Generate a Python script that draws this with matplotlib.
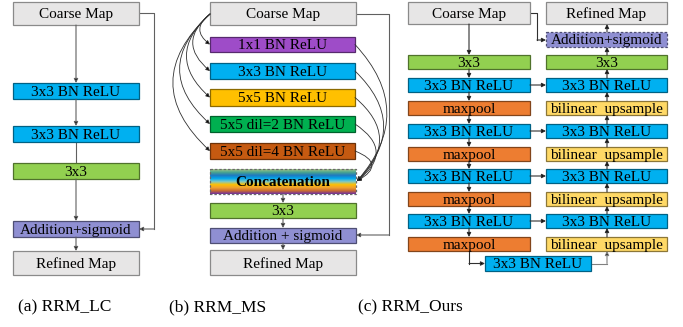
import numpy as np
import matplotlib.pyplot as plt
from matplotlib.patches import Rectangle, FancyArrowPatch
from matplotlib.colors import to_rgb, LinearSegmentedColormap

plt.rcParams['font.family'] = ['Liberation Serif', 'DejaVu Serif']

# ---- labels / content ----
captions = ['(a) RRM_LC', '(b) RRM_MS', '(c) RRM_Ours']

lc_labels = ['Coarse Map', '3x3 BN ReLU', '3x3 BN ReLU', '3x3', 'Addition+sigmoid', 'Refined Map']
ms_branches = ['1x1 BN ReLU', '3x3 BN ReLU', '5x5 BN ReLU', '5x5 dil=2 BN ReLU', '5x5 dil=4 BN ReLU']
ms_tail = ['Concatenation', '3x3', 'Addition + sigmoid', 'Refined Map']
ours_left = ['3x3', '3x3 BN ReLU', 'maxpool', '3x3 BN ReLU', 'maxpool',
             '3x3 BN ReLU', 'maxpool', '3x3 BN ReLU', 'maxpool']
ours_right = ['3x3', '3x3 BN ReLU', 'bilinear  upsample', '3x3 BN ReLU', 'bilinear  upsample',
              '3x3 BN ReLU', 'bilinear  upsample', '3x3 BN ReLU', 'bilinear  upsample']
ours_bottom = '3x3 BN ReLU'

# colours
GRAY = '#e7e6e6'
BLUE = '#00b0f0'
LGREEN = '#92d050'
ADD = '#8f8fd2'
colour_of = {'3x3 BN ReLU': BLUE, '3x3': LGREEN, 'maxpool': '#ed7d31',
             'bilinear  upsample': '#ffd966', 'Coarse Map': GRAY, 'Refined Map': GRAY,
             'Addition+sigmoid': ADD, 'Addition + sigmoid': ADD}
branch_colours = ['#9e4cc8', BLUE, '#ffc000', '#00b050', '#c55a11']
concat_stops = ['#a4c88a', '#4aa58e', '#1f78c0', '#00a8ec', '#7cc8c8', '#ffc000', '#f0a030', '#c86a30', '#7030a0']

W, H = 683, 327
fig = plt.figure(figsize=(W / 100, H / 100), dpi=100)
ax = fig.add_axes([0, 0, 1, 1])
LINE = '#606060'


def darker(c, f=0.55):
    r, g, b = to_rgb(c)
    return (r * f, g * f, b * f)


def box(x0, x1, y0, y1, text, fc, dashed=False, bold=False, fs=11, ec=None):
    if ec is None:
        ec = '#8a8a8a' if fc == GRAY else darker(fc)
    ax.add_patch(Rectangle((x0, y0), x1 - x0, y1 - y0, facecolor=fc if fc else 'none',
                           edgecolor=ec, lw=0.9, ls=(0, (2, 1.5)) if dashed else '-', zorder=3))
    ax.text((x0 + x1) / 2, (y0 + y1) / 2 + 1.2, text, ha='center', va='center', fontsize=fs,
            weight='bold' if bold else 'normal', zorder=5)


def arrow(p0, p1, rad=0.0, color=LINE, lw=0.8):
    a = FancyArrowPatch(p0, p1, arrowstyle='-|>', mutation_scale=6, lw=lw,
                        color=color, shrinkA=0, shrinkB=0,
                        connectionstyle='arc3,rad=%s' % rad, zorder=4)
    a.set_edgecolor(color)
    a.set_facecolor('black')
    ax.add_patch(a)


def path(points, color=LINE, head=True, lw=0.8):
    xs, ys = zip(*points)
    if head:
        ax.plot(xs[:-1], ys[:-1], color=color, lw=lw, zorder=2)
        arrow(points[-2], points[-1], color=color, lw=lw)
    else:
        ax.plot(xs, ys, color=color, lw=lw, zorder=2)


# ---------------- (a) RRM_LC ----------------
ax_ = [13, 139]
a_rows = [(2, 25), (83, 99), (126, 142), (163, 179), (221, 237), (251, 275)]
for lab, (y0, y1) in zip(lc_labels, a_rows):
    box(ax_[0], ax_[1], y0, y1, lab, colour_of[lab])
cx = 76
for i in range(len(a_rows) - 1):
    if i == 2:
        path([(cx, a_rows[i][1]), (cx, a_rows[i + 1][0])], head=False)
    else:
        arrow((cx, a_rows[i][1]), (cx, a_rows[i + 1][0]))
path([(139, 13), (154, 13), (154, 229), (139, 229)])

# ---------------- (b) RRM_MS ----------------
bx = [210, 356]
box(bx[0], bx[1], 2, 25, 'Coarse Map', GRAY)
b_rows = [(37, 52), (63, 79), (89, 106), (116, 132), (143, 159)]
left_rad = [0.66, 0.6, 0.56, 0.55, 0.54]
right_rad = [-0.45, -0.5, -0.56, -0.7, -1.05]
for lab, fc, (y0, y1), rl, rr in zip(ms_branches, branch_colours, b_rows, left_rad, right_rad):
    box(bx[0], bx[1] - 1, y0, y1, lab, fc)
    yc = (y0 + y1) / 2
    arrow((bx[0], 14), (bx[0], yc), rad=rl, color='#303030', lw=0.6)
    arrow((bx[1] - 1, yc), (bx[1] + 1, 181), rad=rr, color='#303030', lw=0.6)

# concatenation: gradient fill + dashed border
cy0, cy1 = 169, 194
cmap = LinearSegmentedColormap.from_list('cat', concat_stops)
grad = np.linspace(0, 1, 100).reshape(-1, 1)
ax.imshow(grad, cmap=cmap, extent=(bx[0], bx[1], cy1, cy0), aspect='auto', zorder=2.5)
box(bx[0], bx[1], cy0, cy1, ms_tail[0], None, dashed=True, bold=True, ec='#6a6a6a')

tail_rows = [(203, 218), (228, 243), (250, 275)]
for lab, (y0, y1) in zip(ms_tail[1:], tail_rows):
    box(bx[0], bx[1], y0, y1, lab, colour_of[lab])
bcx = 283
arrow((bcx, cy1), (bcx, tail_rows[0][0]))
arrow((bcx, tail_rows[0][1]), (bcx, tail_rows[1][0]))
arrow((bcx, tail_rows[1][1]), (bcx, tail_rows[2][0]))
path([(bx[1], 14), (389, 14), (389, 235), (bx[1], 235)])

# ---------------- (c) RRM_Ours ----------------
L = [408, 530]
R = [546, 667]
box(L[0], L[1], 2, 24, 'Coarse Map', GRAY)
box(R[0], R[1], 2, 24, 'Refined Map', GRAY)
box(R[0], R[1], 32, 47, 'Addition+sigmoid', ADD, dashed=True)
c_tops = [55, 78, 101, 124, 147, 169, 192, 214, 237]
hh = 14
for lab_l, lab_r, y0 in zip(ours_left, ours_right, c_tops):
    box(L[0], L[1], y0, y0 + hh, lab_l, colour_of[lab_l])
    box(R[0], R[1], y0, y0 + hh, lab_r, colour_of[lab_r])
    if lab_l == '3x3 BN ReLU':
        arrow((L[1], y0 + hh / 2), (R[0], y0 + hh / 2), color='#303030')
box(485, 591, 256, 271, ours_bottom, BLUE)

lx, rx = 469, 607
arrow((lx, 24), (lx, c_tops[0]), color='#303030')
for i in range(len(c_tops) - 1):
    arrow((lx, c_tops[i] + hh), (lx, c_tops[i + 1]), color='#303030')
    arrow((rx, c_tops[i + 1]), (rx, c_tops[i] + hh), color='#303030')
arrow((rx, c_tops[0]), (rx, 47), color='#303030')
arrow((rx, 32), (rx, 24), color='#303030')
path([(lx, c_tops[-1] + hh), (lx, 263.5), (485, 263.5)], color='#303030')
path([(591, 263.5), (rx, 263.5), (rx, c_tops[-1] + hh)], color='#808080')
path([(L[1], 13), (537, 13), (537, 40), (R[0], 40)], color='#303030')

# captions
for txt, x in zip(captions, [65, 218, 410]):
    ax.text(x, 307, txt, ha='center', va='center', fontsize=12.5)

ax.set_xlim(0, W)
ax.set_ylim(H, 0)
ax.axis('off')
fig.savefig('out.png', dpi=100)
